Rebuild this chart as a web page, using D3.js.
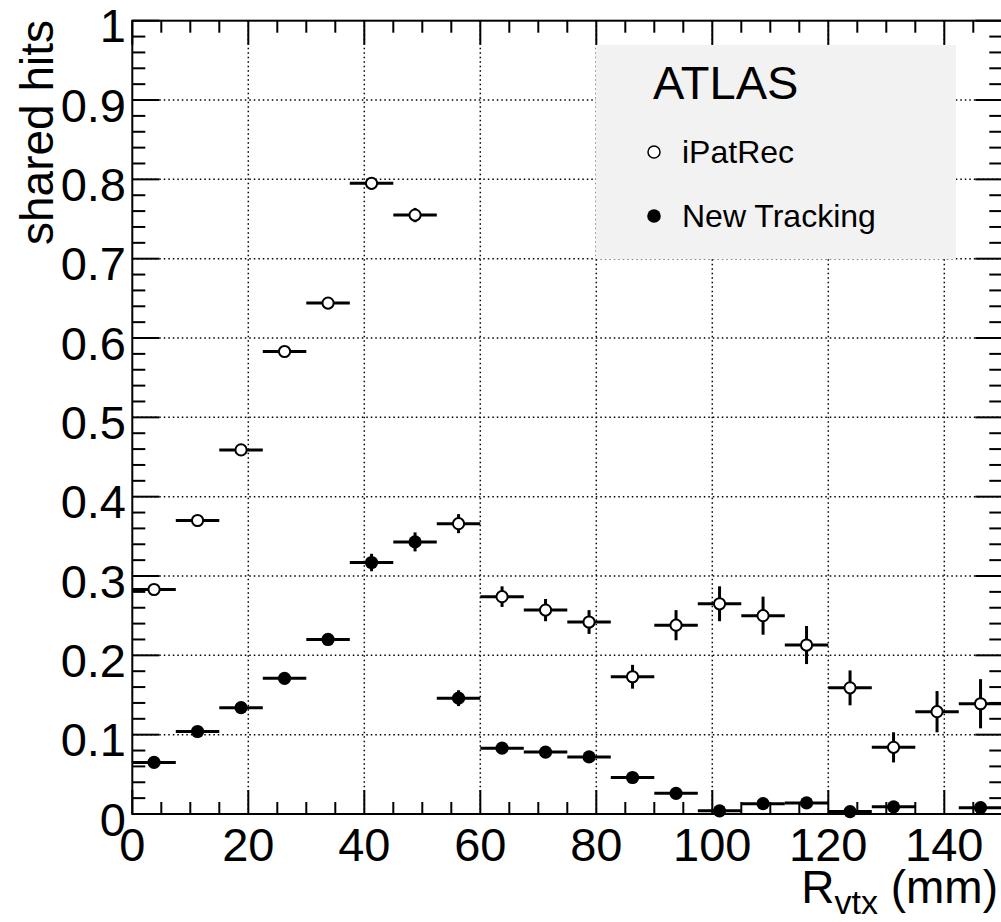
<!DOCTYPE html>
<html>
<head>
<meta charset="utf-8">
<script src="https://cdn.jsdelivr.net/npm/d3@7"></script>
<style>
  html, body { margin: 0; padding: 0; background: #fff; }
  svg { display: block; font-family: "Liberation Sans", Arial, Helvetica, sans-serif; }
</style>
</head>
<body>
<div id="chart"></div>
<script>
// bin centres (mm) and half bin width
const binCenters = [3.75, 11.25, 18.75, 26.25, 33.75, 41.25, 48.75, 56.25, 63.75, 71.25,
                    78.75, 86.25, 93.75, 101.25, 108.75, 116.25, 123.75, 131.25, 138.75, 146.25];
const binHalfWidth = 3.75;

// iPatRec (open markers)
const ipatValues = [0.283, 0.370, 0.459, 0.583, 0.644, 0.795, 0.755, 0.366, 0.274, 0.257,
                    0.242, 0.173, 0.238, 0.265, 0.250, 0.213, 0.159, 0.084, 0.129, 0.139];
const ipatErrors = [0.004, 0.004, 0.005, 0.005, 0.006, 0.008, 0.009, 0.012, 0.013, 0.014,
                    0.015, 0.015, 0.019, 0.022, 0.024, 0.024, 0.022, 0.019, 0.026, 0.031];

// New Tracking (filled markers), null = empty bin
const newValues = [0.065, 0.104, 0.134, 0.171, 0.220, 0.317, 0.343, 0.146, 0.083, 0.078,
                   0.072, 0.046, 0.026, 0.004, 0.013, 0.014, 0.003, 0.009, null, 0.008];
const newErrors = [0.003, 0.003, 0.004, 0.004, 0.005, 0.011, 0.012, 0.010, 0.005, 0.005,
                   0.005, 0.004, 0.004, 0.002, 0.003, 0.003, 0.002, 0.003, null, 0.003];

const xMajorTicks = [0, 20, 40, 60, 80, 100, 120, 140];
const yMajorTicks = [0, 0.1, 0.2, 0.3, 0.4, 0.5, 0.6, 0.7, 0.8, 0.9, 1];
const yTickLabels = ['0', '0.1', '0.2', '0.3', '0.4', '0.5', '0.6', '0.7', '0.8', '0.9', '1'];

const legendItems = [
    { label: 'iPatRec', filled: false },
    { label: 'New Tracking', filled: true }
];

const width = 1001, height = 922;
const plotLeft = 132.3, plotRight = 1002.3, plotTop = 20.7, plotBottom = 814;

const svg = d3.select('#chart').append('svg')
    .attr('width', width)
    .attr('height', height)
    .attr('viewBox', `0 0 ${width} ${height}`);

const x = d3.scaleLinear().domain([0, 150]).range([plotLeft, plotRight]);
const y = d3.scaleLinear().domain([0, 1]).range([plotBottom, plotTop]);

// grid
const grid = svg.append('g')
    .attr('stroke', '#000')
    .attr('stroke-width', 1.5)
    .attr('stroke-dasharray', '1.5,3');
grid.selectAll('line.gx')
    .data(xMajorTicks.filter(d => d > 0))
    .enter().append('line')
    .attr('x1', d => x(d)).attr('x2', d => x(d))
    .attr('y1', plotTop).attr('y2', plotBottom);
grid.selectAll('line.gy')
    .data(yMajorTicks.filter(d => d > 0 && d < 1))
    .enter().append('line')
    .attr('x1', plotLeft).attr('x2', plotRight)
    .attr('y1', d => y(d)).attr('y2', d => y(d));

// legend box
svg.append('rect')
    .attr('x', 596).attr('y', 45)
    .attr('width', 360).attr('height', 214)
    .attr('fill', '#f2f2f2');

svg.append('text')
    .attr('x', 653).attr('y', 99)
    .attr('font-size', 47)
    .text('ATLAS');

const legend = svg.append('g')
    .selectAll('g')
    .data(legendItems)
    .enter().append('g')
    .attr('transform', (d, i) => `translate(654, ${152 + i * 64})`);
legend.append('circle')
    .attr('r', d => d.filled ? 6.8 : 6)
    .attr('fill', d => d.filled ? '#000' : '#fff')
    .attr('stroke', '#000')
    .attr('stroke-width', d => d.filled ? 0 : 1.5);
legend.append('text')
    .attr('x', 28).attr('y', 11)
    .attr('font-size', 32)
    .text(d => d.label);

// frame + ticks
const axes = svg.append('g').attr('stroke', '#000').attr('stroke-width', 2).attr('fill', 'none');
axes.append('rect')
    .attr('x', plotLeft).attr('y', plotTop)
    .attr('width', plotRight - plotLeft).attr('height', plotBottom - plotTop);

const xMinor = d3.range(0, 151, 5);
const yMinor = d3.range(0, 51).map(i => i / 50);
const isXMajor = d => d % 20 === 0;
const isYMajor = d => Math.abs(Math.round(d * 10) - d * 10) < 1e-6;

axes.selectAll('line.xb')
    .data(xMinor)
    .enter().append('line')
    .attr('x1', d => x(d)).attr('x2', d => x(d))
    .attr('y1', plotBottom).attr('y2', d => plotBottom - (isXMajor(d) ? 24 : 12));
axes.selectAll('line.xt')
    .data(xMinor)
    .enter().append('line')
    .attr('x1', d => x(d)).attr('x2', d => x(d))
    .attr('y1', plotTop).attr('y2', d => plotTop + (isXMajor(d) ? 24 : 12));
axes.selectAll('line.yl')
    .data(yMinor)
    .enter().append('line')
    .attr('y1', d => y(d)).attr('y2', d => y(d))
    .attr('x1', plotLeft).attr('x2', d => plotLeft + (isYMajor(d) ? 27 : 13));
axes.selectAll('line.yr')
    .data(yMinor)
    .enter().append('line')
    .attr('y1', d => y(d)).attr('y2', d => y(d))
    .attr('x1', plotRight).attr('x2', d => plotRight - (isYMajor(d) ? 27 : 13));

// tick labels
svg.append('g')
    .selectAll('text')
    .data(xMajorTicks)
    .enter().append('text')
    .attr('x', d => x(d))
    .attr('y', 861)
    .attr('text-anchor', 'middle')
    .attr('font-size', 47)
    .text(d => d);

svg.append('g')
    .selectAll('text')
    .data(yMajorTicks)
    .enter().append('text')
    .attr('x', 126)
    .attr('y', d => y(d) + 21.5)
    .attr('text-anchor', 'end')
    .attr('font-size', 47)
    .text((d, i) => yTickLabels[i]);

// axis titles
svg.append('text')
    .attr('transform', 'translate(53,20) rotate(-90)')
    .attr('text-anchor', 'end')
    .attr('font-size', 46)
    .text('shared hits');

const xTitle = svg.append('text')
    .attr('x', 998).attr('y', 903)
    .attr('text-anchor', 'end')
    .attr('font-size', 46);
xTitle.append('tspan').text('R');
xTitle.append('tspan').attr('font-size', 34).attr('dy', 11).text('vtx');
xTitle.append('tspan').attr('dy', -11).text(' (mm)');

// data series
function drawSeries(values, errors, filled) {
    const pts = binCenters.map((c, i) => ({ c, v: values[i], e: errors[i] }))
        .filter(d => d.v !== null);
    const g = svg.append('g');
    g.selectAll('line.h')
        .data(pts)
        .enter().append('line')
        .attr('x1', d => x(d.c - binHalfWidth)).attr('x2', d => x(d.c + binHalfWidth))
        .attr('y1', d => y(d.v)).attr('y2', d => y(d.v))
        .attr('stroke', '#000').attr('stroke-width', 3);
    g.selectAll('line.v')
        .data(pts)
        .enter().append('line')
        .attr('x1', d => x(d.c)).attr('x2', d => x(d.c))
        .attr('y1', d => y(d.v - d.e)).attr('y2', d => y(d.v + d.e))
        .attr('stroke', '#000').attr('stroke-width', 3);
    g.selectAll('circle')
        .data(pts)
        .enter().append('circle')
        .attr('cx', d => x(d.c)).attr('cy', d => y(d.v))
        .attr('r', filled ? 6.6 : 5.6)
        .attr('fill', filled ? '#000' : '#fff')
        .attr('stroke', '#000')
        .attr('stroke-width', filled ? 0 : 2);
}

drawSeries(ipatValues, ipatErrors, false);
drawSeries(newValues, newErrors, true);
</script>
</body>
</html>
